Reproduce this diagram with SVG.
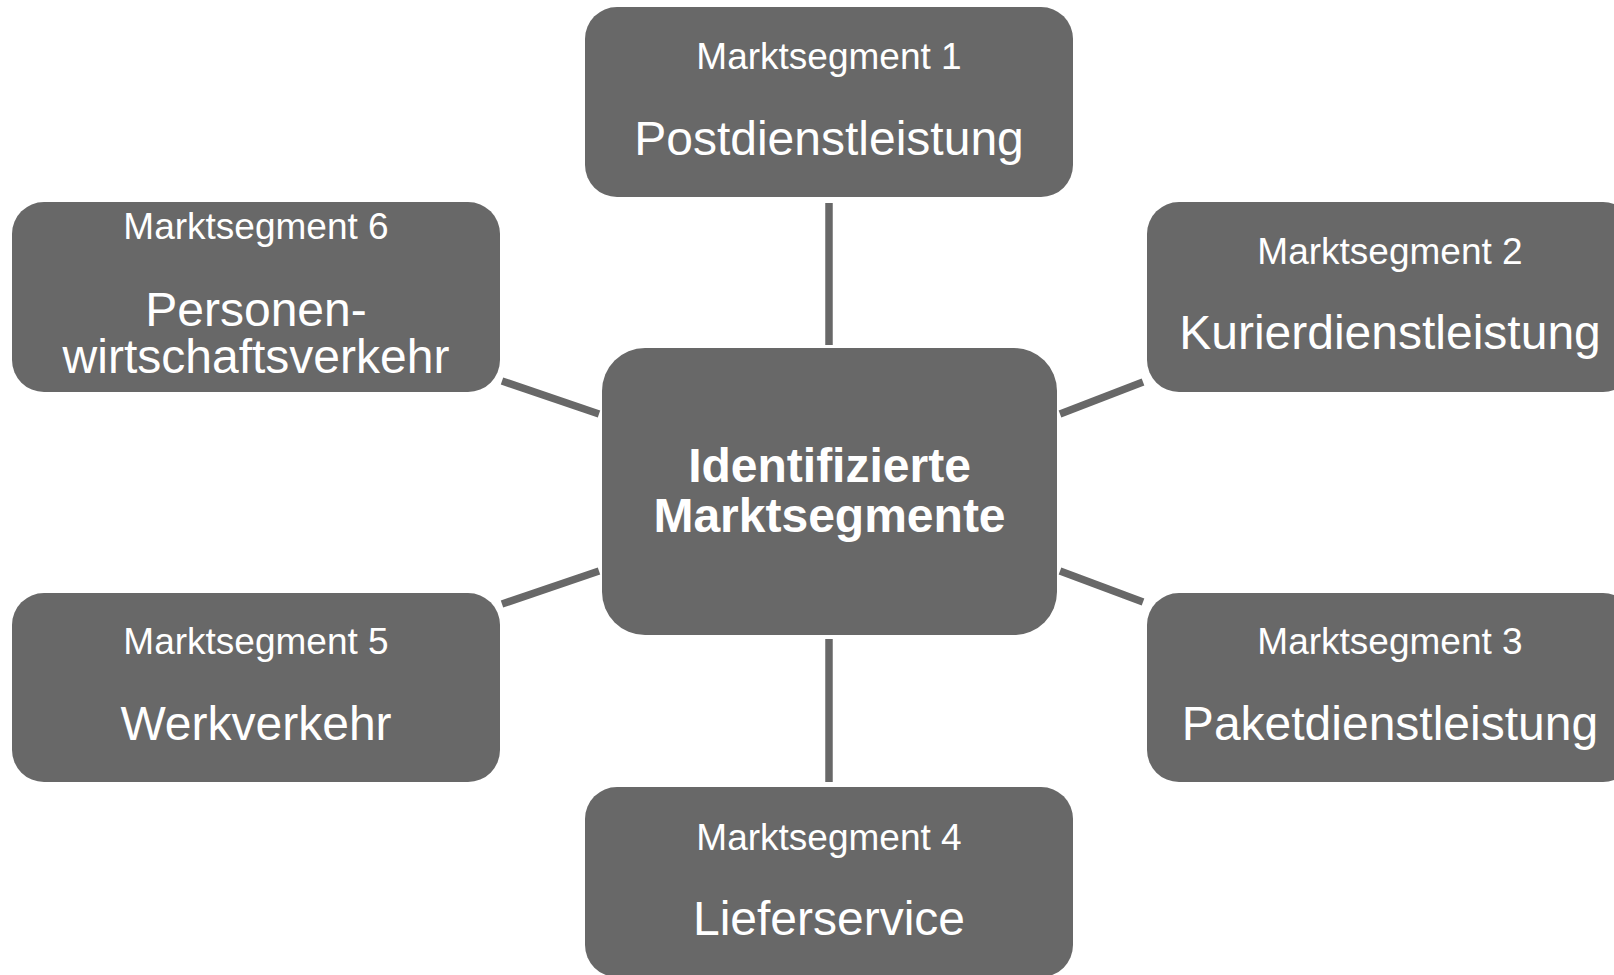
<svg xmlns="http://www.w3.org/2000/svg" width="1614" height="975" viewBox="0 0 1614 975">
<style>
.box{fill:#686868;}
.sm{font-family:"Liberation Sans",Arial,sans-serif;font-size:37px;fill:#ffffff;text-anchor:middle;}
.lg{font-family:"Liberation Sans",Arial,sans-serif;font-size:48px;fill:#ffffff;text-anchor:middle;}
.bold{font-family:"Liberation Sans",Arial,sans-serif;font-size:48px;font-weight:bold;fill:#ffffff;text-anchor:middle;}
.conn{stroke:#686868;stroke-width:7.5;fill:none;stroke-linecap:butt;}
</style>
<rect width="1614" height="975" fill="#ffffff"/>
<g id="connectors">
<line class="conn" x1="829" y1="203" x2="829" y2="345"/>
<line class="conn" x1="829" y1="639" x2="829" y2="782"/>
<line class="conn" x1="502" y1="381" x2="599" y2="414"/>
<line class="conn" x1="502" y1="604" x2="599" y2="571"/>
<line class="conn" x1="1060" y1="414" x2="1143" y2="382"/>
<line class="conn" x1="1060" y1="571" x2="1143" y2="602"/>
</g>
<g id="center">
<rect class="box" x="602" y="348" width="455" height="287" rx="43" ry="43"/>
<text class="bold" x="829.5" y="482">Identifizierte</text>
<text class="bold" x="829.5" y="532">Marktsegmente</text>
</g>
<g id="seg1">
<rect class="box" x="585" y="7" width="488" height="190" rx="32" ry="32"/>
<text class="sm" x="829" y="69">Marktsegment 1</text>
<text class="lg" x="829" y="155">Postdienstleistung</text>
</g>
<g id="seg2">
<rect class="box" x="1147" y="202" width="488" height="190" rx="32" ry="32"/>
<text class="sm" x="1390" y="264">Marktsegment 2</text>
<text class="lg" x="1390" y="349">Kurierdienstleistung</text>
</g>
<g id="seg3">
<rect class="box" x="1147" y="593" width="488" height="189" rx="32" ry="32"/>
<text class="sm" x="1390" y="654">Marktsegment 3</text>
<text class="lg" x="1390" y="740">Paketdienstleistung</text>
</g>
<g id="seg4">
<rect class="box" x="585" y="787" width="488" height="190" rx="32" ry="32"/>
<text class="sm" x="829" y="850">Marktsegment 4</text>
<text class="lg" x="829" y="935">Lieferservice</text>
</g>
<g id="seg5">
<rect class="box" x="12" y="593" width="488" height="189" rx="32" ry="32"/>
<text class="sm" x="256" y="654">Marktsegment 5</text>
<text class="lg" x="256" y="740">Werkverkehr</text>
</g>
<g id="seg6">
<rect class="box" x="12" y="202" width="488" height="190" rx="32" ry="32"/>
<text class="sm" x="256" y="239">Marktsegment 6</text>
<text class="lg" x="256" y="326">Personen-</text>
<text class="lg" x="256" y="373">wirtschaftsverkehr</text>
</g>
</svg>
